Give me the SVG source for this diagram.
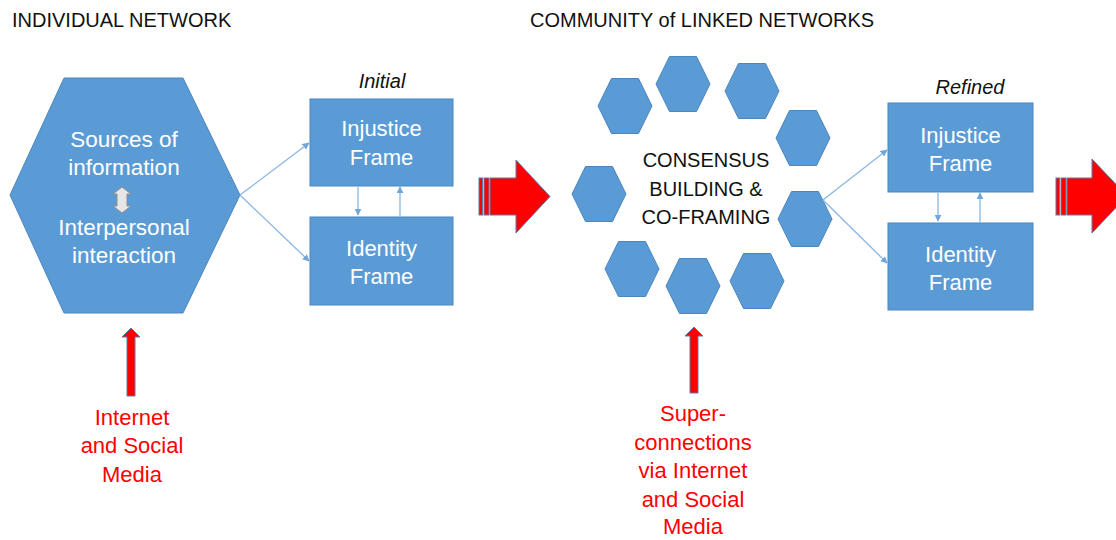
<svg xmlns="http://www.w3.org/2000/svg" width="1116" height="540" viewBox="0 0 1116 540">
<style>
.t{font-family:"Liberation Sans",Arial,sans-serif}
.title{font-size:20px;fill:#111}
.lbl{font-size:20px;font-style:italic;fill:#111}
.wt{font-size:22px;fill:#fff;text-anchor:middle}
.rt{font-size:22px;fill:#ff0000;text-anchor:middle}
.ct{font-size:20px;fill:#111;text-anchor:middle}
.box{fill:#5b9bd5;stroke:#4a86c0;stroke-width:1}
.conn{stroke:#8ab6e2;stroke-width:1.3;fill:none}
.red{fill:#ff0000;stroke:#5a7aa8;stroke-width:1}
</style>
<defs>
<marker id="ah" viewBox="0 0 10 10" refX="9" refY="5" markerWidth="7" markerHeight="7" markerUnits="userSpaceOnUse" orient="auto">
<path d="M0,0 L10,5 L0,10 z" fill="#6fa6dc"/>
</marker>
<polygon id="hx" points="-27,0 -13.5,-27.5 13.5,-27.5 27,0 13.5,27.5 -13.5,27.5"/>
</defs>
<rect width="1116" height="540" fill="#fff"/>
<text class="t title" x="12" y="27">INDIVIDUAL NETWORK</text>
<text class="t title" x="530" y="27">COMMUNITY of LINKED NETWORKS</text>

<g id="individual">
<polygon class="box" points="10,195 64,78 183,78 240,195 183,313 64,313"/>
<text class="t wt" x="124" y="147" style="font-size:22.5px">Sources of</text>
<text class="t wt" x="124" y="175" style="font-size:22.5px">information</text>
<path d="M122,187 L131,194 L127,194 L127,206 L131,206 L122,213 L113,206 L117,206 L117,194 L113,194 Z" fill="#e6e6e6" stroke="#8e8e8e" stroke-width="1"/>
<text class="t wt" x="124" y="235" style="font-size:22.5px">Interpersonal</text>
<text class="t wt" x="124" y="263" style="font-size:22.5px">interaction</text>
</g>

<g id="initial-label"><text class="t lbl" x="382" y="88" text-anchor="middle">Initial</text></g>
<g id="initial-injustice">
<rect class="box" x="310" y="99" width="143" height="87"/>
<text class="t wt" x="381.5" y="136">Injustice</text>
<text class="t wt" x="381.5" y="165">Frame</text>
</g>
<g id="initial-identity">
<rect class="box" x="310" y="217" width="143" height="88"/>
<text class="t wt" x="381.5" y="256">Identity</text>
<text class="t wt" x="381.5" y="284">Frame</text>
</g>

<g id="arrow1">
<rect class="red" x="479" y="178" width="3.5" height="37"/>
<rect class="red" x="484" y="178" width="5" height="37"/>
<path class="red" d="M490,178 L516,178 L516,160 L550,196.5 L516,233 L516,215 L490,215 Z"/>
</g>

<g id="community">
<use href="#hx" x="625" y="106" class="box"/>
<use href="#hx" x="683" y="84" class="box"/>
<use href="#hx" x="752" y="91" class="box"/>
<use href="#hx" x="803" y="138" class="box"/>
<use href="#hx" x="599" y="194" class="box"/>
<use href="#hx" x="805" y="219" class="box"/>
<use href="#hx" x="632" y="269" class="box"/>
<use href="#hx" x="693" y="286" class="box"/>
<use href="#hx" x="757" y="281" class="box"/>
<text class="t ct" x="706" y="167">CONSENSUS</text>
<text class="t ct" x="706" y="196">BUILDING &amp;</text>
<text class="t ct" x="706" y="224">CO-FRAMING</text>
</g>

<g id="refined-label"><text class="t lbl" x="970" y="94" text-anchor="middle">Refined</text></g>
<g id="refined-injustice">
<rect class="box" x="888" y="103" width="145" height="89"/>
<text class="t wt" x="960.5" y="143">Injustice</text>
<text class="t wt" x="960.5" y="171">Frame</text>
</g>
<g id="refined-identity">
<rect class="box" x="888" y="223" width="145" height="87"/>
<text class="t wt" x="960.5" y="262">Identity</text>
<text class="t wt" x="960.5" y="290">Frame</text>
</g>

<g id="arrow2">
<rect class="red" x="1056" y="178" width="3.5" height="37"/>
<rect class="red" x="1061" y="178" width="5" height="37"/>
<path class="red" d="M1067,178 L1092,178 L1092,159 L1127,196 L1092,233 L1092,215 L1067,215 Z"/>
</g>

<g id="internet1">
<path class="red" d="M127,396 L127,337 L122,337 L131,328 L140,337 L135,337 L135,396 Z"/>
<text class="t rt" x="132" y="425">Internet</text>
<text class="t rt" x="132" y="453">and Social</text>
<text class="t rt" x="132" y="482">Media</text>
</g>

<g id="internet2">
<path class="red" d="M690,393 L690,336 L685,336 L694,327 L703,336 L698,336 L698,393 Z"/>
<text class="t rt" x="693" y="421">Super-</text>
<text class="t rt" x="693" y="449.5">connections</text>
<text class="t rt" x="693" y="478">via Internet</text>
<text class="t rt" x="693" y="506.5">and Social</text>
<text class="t rt" x="693" y="534">Media</text>
</g>

<g id="connectors">
<line class="conn" x1="240" y1="195" x2="309" y2="143" marker-end="url(#ah)"/>
<line class="conn" x1="240" y1="195" x2="309" y2="261" marker-end="url(#ah)"/>
<line class="conn" x1="358" y1="187" x2="358" y2="215" marker-end="url(#ah)"/>
<line class="conn" x1="400" y1="217" x2="400" y2="187" marker-end="url(#ah)"/>
<line class="conn" x1="823" y1="200" x2="887" y2="150" marker-end="url(#ah)"/>
<line class="conn" x1="823" y1="200" x2="887" y2="263" marker-end="url(#ah)"/>
<line class="conn" x1="938" y1="193" x2="938" y2="221" marker-end="url(#ah)"/>
<line class="conn" x1="980" y1="223" x2="980" y2="193" marker-end="url(#ah)"/>
</g>
</svg>
